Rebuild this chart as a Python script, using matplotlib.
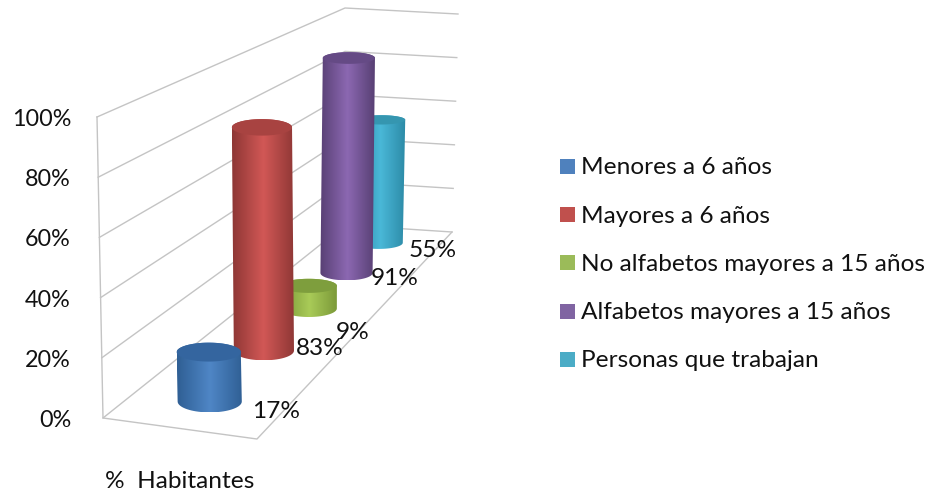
import matplotlib
matplotlib.use("Agg")
import matplotlib.pyplot as plt
import numpy as np
from matplotlib.colors import LinearSegmentedColormap
from matplotlib.patches import PathPatch, Rectangle
from matplotlib.path import Path

plt.rcParams['font.family'] = ['Lato', 'DejaVu Sans']

categories = ["Menores a 6 años", "Mayores a 6 años", "No alfabetos mayores a 15 años",
              "Alfabetos mayores a 15 años", "Personas que trabajan"]
values = [17, 83, 9, 91, 55]
ticks = [0, 20, 40, 60, 80, 100]
axis_name = "%  Habitantes"

# edge, middle and lid colour of each cylinder
edge_colors = ["#2f5f94", "#8e3735", "#7a9838", "#584074", "#2c8aa6"]
mid_colors = ["#4f86c6", "#d25856", "#a9cb58", "#8c68b2", "#4ab8d8"]
lid_colors = ["#34659f", "#a84341", "#7e9e3d", "#654a85", "#3596b0"]
legend_colors = ["#4f81bd", "#c0504d", "#9bbb59", "#8064a2", "#4bacc6"]

# label offsets from the foot of each cylinder, in pixels
label_dx = [42, 32, 27, 24, 29.5]
label_dy = [10, -2, 24, 5, 8]

GRID = "#c4c4c4"
FONT = 17.6
TICK_FONT = 16.8


def homography(quad):
    # unit square -> quad
    src = [(0, 0), (1, 0), (1, 1), (0, 1)]
    a, b = [], []
    for (x, y), (X, Y) in zip(src, quad):
        a.append([x, y, 1, 0, 0, 0, -x * X, -y * X])
        b.append(X)
        a.append([0, 0, 0, x, y, 1, -x * Y, -y * Y])
        b.append(Y)
    return np.append(np.linalg.solve(a, b), 1).reshape(3, 3)


def apply(h, u, d):
    p = h @ np.array([u, d, 1.0])
    return p[:2] / p[2]


floor_h = homography([(103, 418), (257, 439), (452, 232), (345, 225)])
top_h = homography([(97, 117), (251, 137), (458, 14), (345, 8)])


def project(u, d, pct):
    return apply(floor_h, u, d) * (1 - pct / 100) + apply(top_h, u, d) * (pct / 100)


fig = plt.figure(figsize=(9.33, 4.95), dpi=100)
ax = fig.add_axes([0, 0, 1, 1])
ax.axis("off")

# walls and floor
for t in ticks:
    pts = np.array([project(0, 0, t), project(0, 1, t), project(1, 1, t)])
    ax.plot(pts[:, 0], pts[:, 1], color=GRID, lw=1)
    x, y = project(0, 0, t)
    ax.text(71, y + 2.5, f"{t}%", ha="right", va="center", fontsize=TICK_FONT, color="#111111")
edge = np.array([project(0, 0, 100), project(0, 0, 0), project(1, 0, 0), project(1, 1, 0)])
ax.plot(edge[:, 0], edge[:, 1], color=GRID, lw=1)

# cylinders, back to front
n = len(values)
for i in reversed(range(n)):
    d = (i + 0.46) / n
    rx = 33 - 10 * d
    ry = 11.5 - 6 * d
    lid_ry = ry - 1.5
    u = 0.518 - 0.05 * d
    base = project(u, d, 0)
    top = project(u + 0.03 * d * values[i] / 100, d, values[i])
    t = np.linspace(0, np.pi, 40)
    front = np.c_[base[0] + rx * np.cos(t), base[1] + ry * np.sin(t)]
    back = np.c_[top[0] - rx * np.cos(t), top[1] - lid_ry * np.sin(t)]
    outline = np.vstack([front, back, front[:1]])
    body = PathPatch(Path(outline), fc="none", ec="none", zorder=2 + n - i)
    ax.add_patch(body)
    cmap = LinearSegmentedColormap.from_list("c", [edge_colors[i], mid_colors[i], edge_colors[i]])
    grad = np.linspace(0, 1, 128).reshape(1, -1)
    im = ax.imshow(grad, cmap=cmap, aspect="auto", zorder=2 + n - i, interpolation="bilinear",
                   extent=(outline[:, 0].min(), outline[:, 0].max(),
                           outline[:, 1].max(), outline[:, 1].min()))
    im.set_clip_path(body)
    s = np.linspace(0, 2 * np.pi, 80)
    ax.fill(top[0] + rx * np.cos(s), top[1] + lid_ry * np.sin(s), color=lid_colors[i], lw=0, zorder=2 + n - i)
    ax.text(base[0] + label_dx[i], base[1] + label_dy[i], f"{values[i]}%", ha="left", va="center",
            fontsize=FONT, color="#111111", zorder=20)

# legend
for i, name in enumerate(categories):
    y = 166.5 + i * 48.2
    ax.add_patch(Rectangle((560, y - 7.5), 15, 15, fc=legend_colors[i], ec="none"))
    ax.text(581, y + 1.5, name, ha="left", va="center", fontsize=FONT, color="#111111")

ax.text(105, 481, axis_name, ha="left", va="center", fontsize=FONT, color="#111111")

ax.set_xlim(0, 933)
ax.set_ylim(495, 0)
fig.savefig("out.png", dpi=100)
